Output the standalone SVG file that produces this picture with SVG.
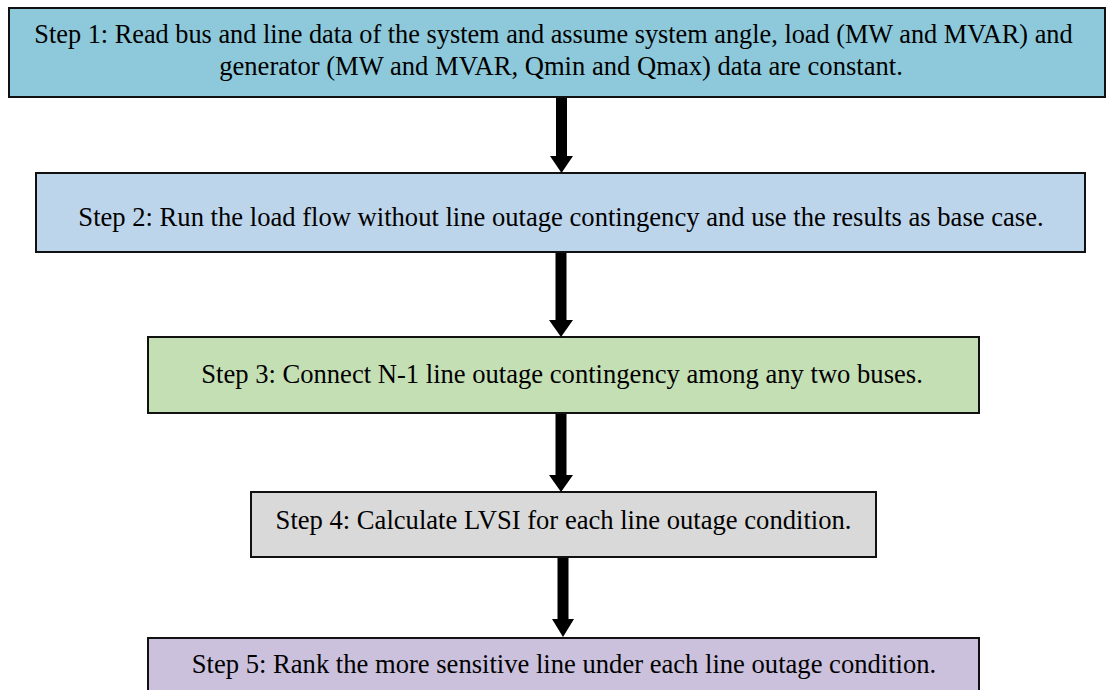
<svg xmlns="http://www.w3.org/2000/svg" width="1107" height="690" viewBox="0 0 1107 690">
<style>
.box{stroke:#111;stroke-width:2}
.t{font-family:"Liberation Serif","Times New Roman",serif;font-size:26.6px;fill:#000;text-anchor:middle}
.arr{fill:#000}
</style>
<rect width="1107" height="690" fill="#fff"/>
<g id="step1">
<rect class="box" x="9" y="8" width="1096" height="89" fill="#8DC9DA"/>
<text class="t" x="553.5" y="43" style="font-size:26.3px">Step 1: Read bus and line data of the system and assume system angle, load (MW and MVAR) and</text>
<text class="t" x="561" y="75">generator (MW and MVAR, Qmin and Qmax) data are constant.</text>
</g>
<g id="step2">
<rect class="box" x="36" y="173" width="1049" height="79" fill="#BDD5EB"/>
<text class="t" x="561" y="226">Step 2: Run the load flow without line outage contingency and use the results as base case.</text>
</g>
<g id="step3">
<rect class="box" x="148" y="337" width="831" height="76" fill="#C5DFB5"/>
<text class="t" x="562" y="383">Step 3: Connect N-1 line outage contingency among any two buses.</text>
</g>
<g id="step4">
<rect class="box" x="251" y="492" width="625" height="65" fill="#D9D9D9"/>
<text class="t" x="563.5" y="529">Step 4: Calculate LVSI for each line outage condition.</text>
</g>
<g id="step5">
<rect class="box" x="148" y="638" width="831" height="60" fill="#CBC1DD"/>
<text class="t" x="564" y="673">Step 5: Rank the more sensitive line under each line outage condition.</text>
</g>
<g id="connectors">
<polygon class="arr" points="556,98 567,98 567,156 573,156 561.5,173 550,156 556,156"/>
<polygon class="arr" points="555.5,253 566.5,253 566.5,320 573,320 561,337 549,320 555.5,320"/>
<polygon class="arr" points="555.5,414 566.5,414 566.5,475 573,475 561,492 549,475 555.5,475"/>
<polygon class="arr" points="557.5,558 568.5,558 568.5,619 574,619 563,637 552,619 557.5,619"/>
</g>
</svg>
